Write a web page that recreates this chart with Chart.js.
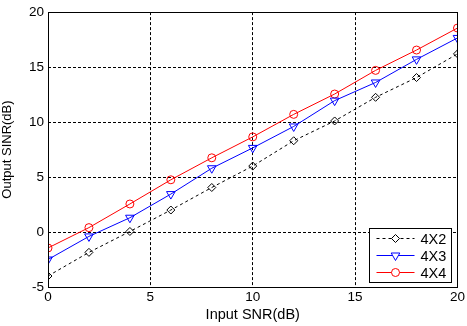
<!DOCTYPE html>
<html>
<head>
<meta charset="utf-8">
<script src="https://cdn.jsdelivr.net/npm/chart.js@4/dist/chart.umd.min.js"></script>
<style>
  html, body { margin: 0; padding: 0; background: #fff; }
  #wrap { width: 467px; height: 326px; }
</style>
</head>
<body>
<div id="wrap"><canvas id="snrChart" width="467" height="326"></canvas></div>
<script>
// Input SNR (dB)
const inputSnr = [0, 2, 4, 6, 8, 10, 12, 14, 16, 18, 20];
// Output SINR (dB) per antenna configuration
const sinr4x2 = [-4.0, -1.85, 0.05, 2.0, 4.05, 6.0, 8.3, 10.1, 12.25, 14.05, 16.2];
const sinr4x3 = [-2.5, -0.4, 1.3, 3.45, 5.8, 7.65, 9.6, 11.95, 13.6, 15.7, 17.65];
const sinr4x4 = [-1.45, 0.4, 2.55, 4.75, 6.75, 8.65, 10.7, 12.55, 14.7, 16.55, 18.55];
const seriesNames = ['4X2', '4X3', '4X4'];
const xTicks = [0, 5, 10, 15, 20];
const yTicks = [-5, 0, 5, 10, 15, 20];

const FONT = 'Arial, "Liberation Sans", sans-serif';

const toPoints = (ys) => inputSnr.map((x, i) => ({ x: x, y: ys[i] }));

const styles = [
    { color: '#000000', dash: [3, 3], marker: 'rectRot', rot: 0, r: 4 },
    { color: '#0000ff', dash: [], marker: 'triangle', rot: 180, r: 5 },
    { color: '#ff0000', dash: [], marker: 'circle', rot: 0, r: 4 }
];

// frame + legend box in the lower right, matlab style
const matlabBits = {
    id: 'matlabBits',
    afterDraw(chart) {
        const ctx = chart.ctx;
        const a = chart.chartArea;
        ctx.save();
        ctx.strokeStyle = '#000';
        ctx.lineWidth = 1;
        ctx.setLineDash([]);
        ctx.strokeRect(Math.round(a.left) + 0.5, Math.round(a.top) + 0.5,
            Math.round(a.right - a.left), Math.round(a.bottom - a.top));

        // legend
        const bw = 82, bh = 54;
        const bx = Math.round(a.right) - 88 + 0.5;
        const by = Math.round(a.bottom) - 59 + 0.5;
        ctx.fillStyle = '#fff';
        ctx.fillRect(bx, by, bw, bh);
        ctx.strokeRect(bx, by, bw, bh);
        ctx.font = '14.5px ' + FONT;
        ctx.textBaseline = 'middle';
        chart.data.datasets.forEach((ds, i) => {
            const st = styles[i];
            const cy = by + 10 + i * 17;
            ctx.strokeStyle = st.color;
            ctx.lineWidth = 1;
            ctx.setLineDash(st.dash);
            ctx.beginPath();
            ctx.moveTo(bx + 7, cy);
            ctx.lineTo(bx + 45, cy);
            ctx.stroke();
            ctx.setLineDash([]);
            ctx.fillStyle = '#fff';
            ctx.strokeStyle = st.color;
            Chart.helpers.drawPoint(ctx, {
                pointStyle: st.marker, radius: st.r, rotation: st.rot, borderWidth: 1
            }, bx + 26, cy);
            ctx.fillStyle = '#000';
            ctx.fillText(ds.label, bx + 51, cy + 1);
        });
        ctx.restore();
    }
};

const ctx = document.getElementById('snrChart').getContext('2d');
new Chart(ctx, {
    type: 'line',
    data: {
        datasets: [sinr4x2, sinr4x3, sinr4x4].map((ys, i) => ({
            label: seriesNames[i],
            data: toPoints(ys),
            borderColor: styles[i].color,
            borderWidth: 1,
            borderDash: styles[i].dash,
            pointStyle: styles[i].marker,
            pointRotation: styles[i].rot,
            pointRadius: styles[i].r,
            pointBorderColor: styles[i].color,
            pointBackgroundColor: 'rgba(0,0,0,0)',
            pointBorderWidth: 1,
            tension: 0,
            fill: false
        }))
    },
    options: {
        responsive: false,
        animation: false,
        layout: { padding: { top: 10, right: 8, left: 0, bottom: 0 } },
        plugins: {
            legend: { display: false },
            tooltip: { enabled: false }
        },
        scales: {
            x: {
                type: 'linear',
                min: 0,
                max: 20,
                afterBuildTicks: (s) => { s.ticks = xTicks.map(v => ({ value: v })); },
                afterFit: (s) => { s.height = 39; },
                grid: {
                    color: '#000',
                    lineWidth: (c) => (c.tick.value === 0 || c.tick.value === 20) ? 0 : 1,
                    drawTicks: false
                },
                border: { display: false, dash: [3, 2] },
                ticks: {
                    color: '#000',
                    font: { family: FONT, size: 13.5 },
                    padding: 2,
                    maxRotation: 0
                },
                title: {
                    display: true,
                    text: 'Input SNR(dB)',
                    color: '#000',
                    font: { family: FONT, size: 14.5 },
                    padding: { top: 0, bottom: 2 }
                }
            },
            y: {
                type: 'linear',
                min: -5,
                max: 20,
                afterBuildTicks: (s) => { s.ticks = yTicks.map(v => ({ value: v })); },
                afterFit: (s) => { s.width = 48; },
                grid: {
                    color: '#000',
                    lineWidth: (c) => (c.tick.value === -5 || c.tick.value === 20) ? 0 : 1,
                    drawTicks: false
                },
                border: { display: false, dash: [3, 2] },
                ticks: {
                    color: '#000',
                    font: { family: FONT, size: 13.5 },
                    padding: 4
                },
                title: {
                    display: true,
                    text: 'Output SINR(dB)',
                    color: '#000',
                    font: { family: FONT, size: 13 },
                    padding: { top: 0, bottom: 2 }
                }
            }
        }
    },
    plugins: [matlabBits]
});
</script>
</body>
</html>
